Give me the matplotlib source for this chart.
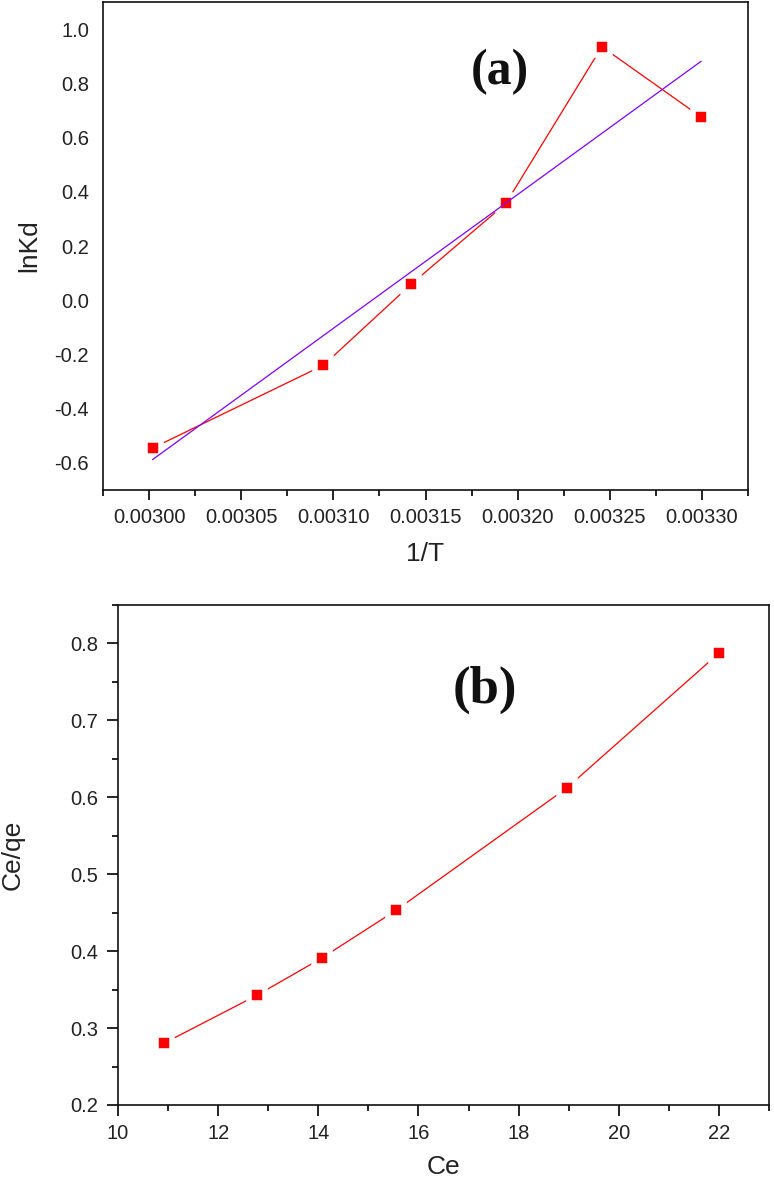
import numpy as np
import matplotlib
matplotlib.use('Agg')
import matplotlib.pyplot as plt
from matplotlib.ticker import MultipleLocator, FormatStrFormatter

plt.rcParams['font.family'] = ['Liberation Sans', 'DejaVu Sans']
plt.rcParams['axes.unicode_minus'] = False

# (a) van't Hoff plot
invT = [0.003002, 0.0030946, 0.0031424, 0.0031936, 0.0032457, 0.0032995]
lnKd = [-0.545, -0.240, 0.060, 0.357, 0.935, 0.676]

# (b) Langmuir plot
Ce = [10.91, 12.77, 14.07, 15.55, 18.96, 22.01]
Ce_qe = [0.280, 0.3425, 0.391, 0.453, 0.612, 0.788]

red = '#ff0000'
violet = '#8000ff'
txt = '#222222'

fig = plt.figure(figsize=(7.74, 11.79), dpi=100)
axA = fig.add_axes([103/774, 1-490/1179, 645/774, 488/1179])
axB = fig.add_axes([118/774, 1-1105/1179, 651/774, 500/1179])

def frame(ax):
  for s in ax.spines.values():
    s.set_linewidth(1.2)
    s.set_color('#111111')

# ---- panel (a)
frame(axA)
axA.plot(invT, lnKd, color=red, lw=0.9, marker='s', ms=12, mfc=red,
         mec='white', mew=4, zorder=3)
k, b = np.polyfit(invT, lnKd, 1)
xf = np.array([invT[0], invT[-1]])
axA.plot(xf, k*xf + b, color=violet, lw=0.9, zorder=4)
axA.set_xlim(0.002975, 0.003325)
axA.set_ylim(-0.7, 1.1)
axA.xaxis.set_major_locator(MultipleLocator(0.00005))
axA.xaxis.set_minor_locator(MultipleLocator(0.000025))
axA.xaxis.set_major_formatter(FormatStrFormatter('%.5f'))
axA.yaxis.set_major_locator(MultipleLocator(0.2))
axA.yaxis.set_major_formatter(FormatStrFormatter('%.1f'))
axA.tick_params(axis='x', which='major', direction='out', length=7, width=1.2,
                pad=6, labelsize=14.5, labelcolor=txt)
axA.tick_params(axis='x', which='minor', direction='out', length=4, width=1.2)
axA.tick_params(axis='y', which='both', length=0, pad=10, labelsize=14.5,
                labelcolor=txt)
axA.set_xlabel('1/T', fontsize=19, color=txt)
axA.set_ylabel('lnKd', fontsize=19, color=txt)
axA.xaxis.set_label_coords(0.5, -0.107)
axA.yaxis.set_label_coords(-0.095, 0.5)
axA.text(0.616, 0.857, '(a)', transform=axA.transAxes, ha='center', va='center',
         fontsize=36, fontweight='bold', family='Liberation Serif', color='#111111')

# ---- panel (b)
frame(axB)
axB.plot(Ce, Ce_qe, color=red, lw=0.9, marker='s', ms=12, mfc=red,
         mec='white', mew=4, zorder=3)
axB.set_xlim(10, 23)
axB.set_ylim(0.2, 0.85)
axB.xaxis.set_major_locator(MultipleLocator(2))
axB.xaxis.set_minor_locator(MultipleLocator(1))
axB.yaxis.set_major_locator(MultipleLocator(0.1))
axB.yaxis.set_minor_locator(MultipleLocator(0.05))
axB.yaxis.set_major_formatter(FormatStrFormatter('%.1f'))
axB.tick_params(which='major', direction='out', length=8, width=1.2, pad=6,
                labelsize=14.5, labelcolor=txt)
axB.tick_params(which='minor', direction='out', length=4, width=1.2)
axB.set_xlabel('Ce', fontsize=19, color=txt)
axB.set_ylabel('Ce/qe', fontsize=19, color=txt)
axB.xaxis.set_label_coords(0.5, -0.1)
axB.yaxis.set_label_coords(-0.143, 0.5)
axB.text(0.564, 0.83, '(b)', transform=axB.transAxes, ha='center', va='center',
         fontsize=38, fontweight='bold', family='Liberation Serif', color='#111111')

fig.savefig('out.png', dpi=100)
